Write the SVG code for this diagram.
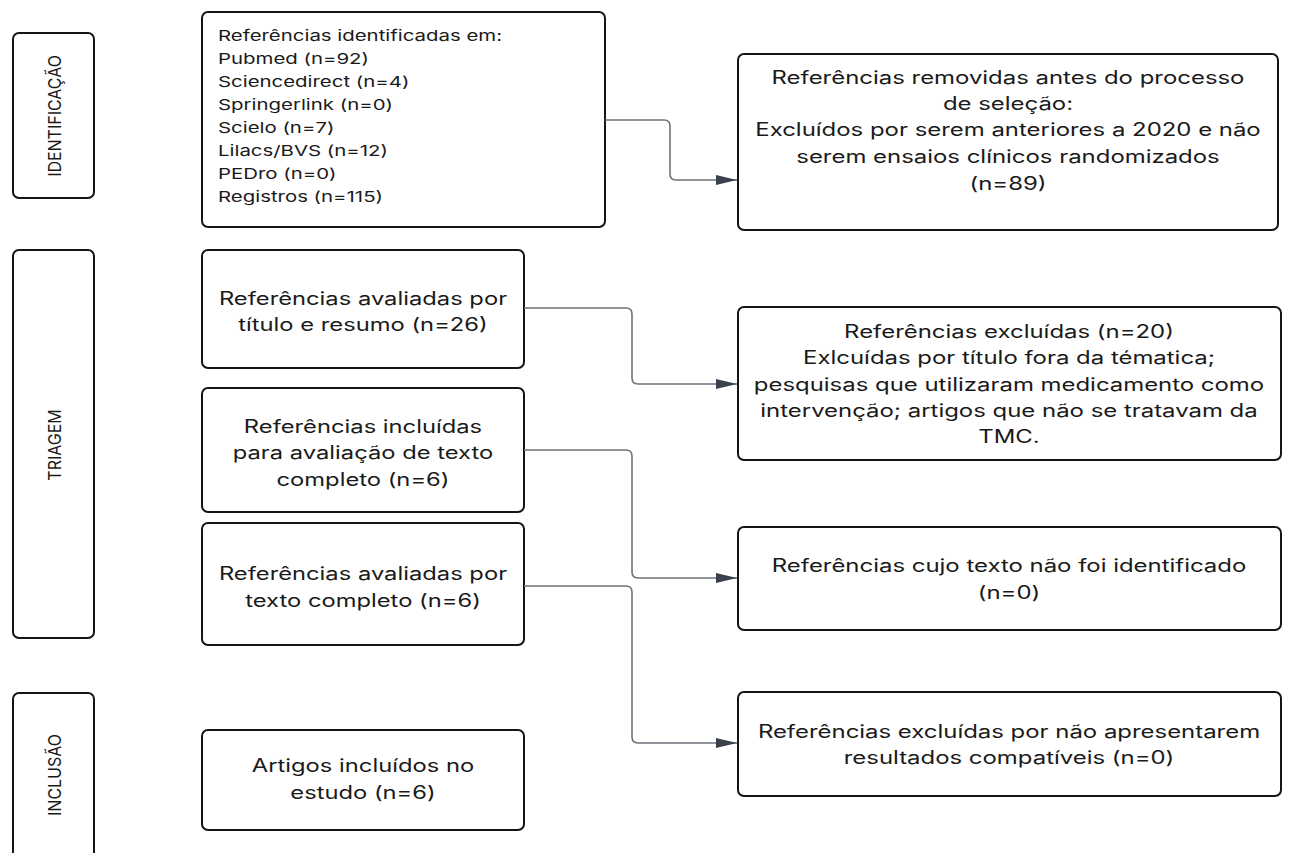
<svg xmlns="http://www.w3.org/2000/svg" width="1295" height="853" viewBox="0 0 1295 853">
<style>
.box{fill:#fff;stroke:#151515;stroke-width:2}
.t{font-family:Inter,"Noto Sans","Liberation Sans",sans-serif;font-size:18px;fill:#1a1a1a;text-anchor:middle}
.s{font-family:Inter,"Noto Sans","Liberation Sans",sans-serif;font-size:15px;fill:#1a1a1a}
.v{font-family:Inter,"Noto Sans","Liberation Sans",sans-serif;font-size:16px;fill:#1a1a1a;text-anchor:middle}
.c{fill:none;stroke:#6e727b;stroke-width:1.6}
</style>
<defs>
<marker id="ah" viewBox="0 0 21 10" refX="21" refY="5" markerWidth="21" markerHeight="10" markerUnits="userSpaceOnUse" orient="auto">
<path d="M0,0 L21,5 L0,10 z" fill="#3a414d"/>
</marker>
</defs>
<rect width="1295" height="853" fill="#fff"/>

<g id="lbl-identificacao">
<rect class="box" x="13" y="33" width="81" height="165" rx="6"/>
<text class="v" transform="translate(61,116) scale(1.12,1) rotate(-90)">IDENTIFICAÇÃO</text>
</g>
<g id="lbl-triagem">
<rect class="box" x="13" y="250" width="81" height="388" rx="6"/>
<text class="v" transform="translate(61,445) scale(1.12,1) rotate(-90)">TRIAGEM</text>
</g>
<g id="lbl-inclusao">
<rect class="box" x="13" y="693" width="81" height="200" rx="6"/>
<text class="v" transform="translate(61,775) scale(1.12,1) rotate(-90)">INCLUSÃO</text>
</g>

<g id="n-fontes">
<rect class="box" x="202" y="12" width="403" height="215" rx="6"/>
<text class="s" transform="translate(218,41) scale(1.36,1)">Referências identificadas em:</text>
<text class="s" transform="translate(218,64) scale(1.36,1)">Pubmed (n=92)</text>
<text class="s" transform="translate(218,87) scale(1.36,1)">Sciencedirect (n=4)</text>
<text class="s" transform="translate(218,110) scale(1.36,1)">Springerlink (n=0)</text>
<text class="s" transform="translate(218,133) scale(1.36,1)">Scielo (n=7)</text>
<text class="s" transform="translate(218,156) scale(1.36,1)">Lilacs/BVS (n=12)</text>
<text class="s" transform="translate(218,179) scale(1.36,1)">PEDro (n=0)</text>
<text class="s" transform="translate(218,202) scale(1.36,1)">Registros (n=115)</text>
</g>

<g id="n-removidas">
<rect class="box" x="738" y="54" width="540" height="176" rx="6"/>
<text class="t" transform="translate(1008,84) scale(1.33,1)">Referências removidas antes do processo</text>
<text class="t" transform="translate(1008,110) scale(1.33,1)">de seleção:</text>
<text class="t" transform="translate(1008,136) scale(1.33,1)">Excluídos por serem anteriores a 2020 e não</text>
<text class="t" transform="translate(1008,163) scale(1.33,1)">serem ensaios clínicos randomizados</text>
<text class="t" transform="translate(1008,190) scale(1.33,1)">(n=89)</text>
</g>

<g id="n-titulo">
<rect class="box" x="202" y="250" width="322" height="118" rx="6"/>
<text class="t" transform="translate(363,305) scale(1.32,1)">Referências avaliadas por</text>
<text class="t" transform="translate(363,331) scale(1.32,1)">título e resumo (n=26)</text>
</g>

<g id="n-incluidas">
<rect class="box" x="202" y="388" width="322" height="124" rx="6"/>
<text class="t" transform="translate(363,433) scale(1.32,1)">Referências incluídas</text>
<text class="t" transform="translate(363,459) scale(1.32,1)">para avaliação de texto</text>
<text class="t" transform="translate(363,486) scale(1.32,1)">completo (n=6)</text>
</g>

<g id="n-texto">
<rect class="box" x="202" y="523" width="322" height="122" rx="6"/>
<text class="t" transform="translate(363,580) scale(1.32,1)">Referências avaliadas por</text>
<text class="t" transform="translate(363,607) scale(1.32,1)">texto completo (n=6)</text>
</g>

<g id="n-artigos">
<rect class="box" x="202" y="730" width="322" height="100" rx="6"/>
<text class="t" transform="translate(363,772) scale(1.32,1)">Artigos incluídos no</text>
<text class="t" transform="translate(363,799) scale(1.32,1)">estudo (n=6)</text>
</g>

<g id="n-excluidas20">
<rect class="box" x="738" y="307" width="543" height="153" rx="6"/>
<text class="t" transform="translate(1009,338) scale(1.33,1)">Referências excluídas (n=20)</text>
<text class="t" transform="translate(1009,364) scale(1.33,1)">Exlcuídas por título fora da tématica;</text>
<text class="t" transform="translate(1009,391) scale(1.33,1)">pesquisas que utilizaram medicamento como</text>
<text class="t" transform="translate(1009,417) scale(1.33,1)">intervenção; artigos que não se tratavam da</text>
<text class="t" transform="translate(1009,443) scale(1.33,1)">TMC.</text>
</g>

<g id="n-cujo">
<rect class="box" x="738" y="527" width="543" height="103" rx="6"/>
<text class="t" transform="translate(1009,572) scale(1.33,1)">Referências cujo texto não foi identificado</text>
<text class="t" transform="translate(1009,599) scale(1.33,1)">(n=0)</text>
</g>

<g id="n-naoapres">
<rect class="box" x="738" y="692" width="543" height="104" rx="6"/>
<text class="t" transform="translate(1009,738) scale(1.33,1)">Referências excluídas por não apresentarem</text>
<text class="t" transform="translate(1009,764) scale(1.33,1)">resultados compatíveis (n=0)</text>
</g>

<g id="connectors">
<path class="c" d="M605,120 H664 Q670,120 670,126 V174 Q670,180 676,180 H737" marker-end="url(#ah)"/>
<path class="c" d="M524,308 H626 Q632,308 632,314 V378 Q632,384 638,384 H737" marker-end="url(#ah)"/>
<path class="c" d="M524,450 H626 Q632,450 632,456 V572 Q632,578 638,578 H737" marker-end="url(#ah)"/>
<path class="c" d="M524,586 H626 Q632,586 632,592 V737 Q632,743 638,743 H737" marker-end="url(#ah)"/>
</g>
</svg>
